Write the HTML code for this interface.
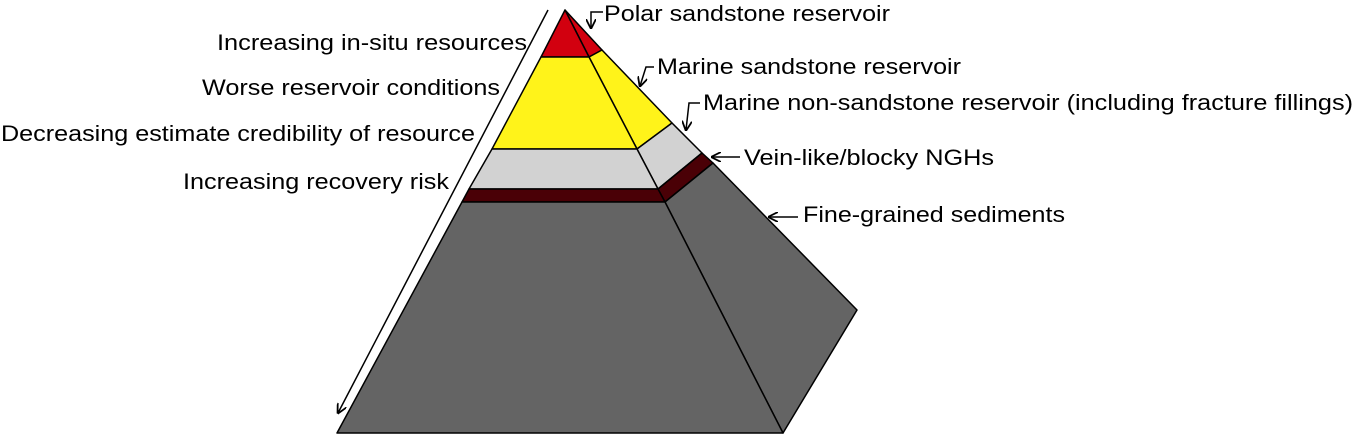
<!DOCTYPE html>
<html><head><meta charset="utf-8"><style>html,body{margin:0;padding:0;background:#fff}svg{display:block}</style></head><body>
<svg width="1354" height="435" viewBox="0 0 1354 435" xmlns="http://www.w3.org/2000/svg">
<defs><marker id="a" markerWidth="10" markerHeight="10" refX="9" refY="5" orient="auto" markerUnits="userSpaceOnUse"><path d="M0,0 L10,5 L0,10" fill="none" stroke="#000" stroke-width="1.8"/></marker></defs>
<g stroke="#000" stroke-width="1.5" stroke-linejoin="round">
<polygon points="565,10 602,50 589,57" fill="#d2000f"/>
<polygon points="602,50 672,123 637,149 589,57" fill="#fff31a"/>
<polygon points="672,123 702,153 658,189 637,149" fill="#d2d2d2"/>
<polygon points="702,153 713,163 665,202 658,189" fill="#4a0006"/>
<polygon points="713,163 857,310 783,433 665,202" fill="#646464"/>
<polygon points="565,10 589,57 541,57" fill="#d2000f"/>
<polygon points="541,57 589,57 637,149 492,149" fill="#fff31a"/>
<polygon points="492,149 637,149 658,189 469,189" fill="#d2d2d2"/>
<polygon points="469,189 658,189 665,202 462,202" fill="#4a0006"/>
<polygon points="462,202 665,202 783,433 337,433" fill="#646464"/>
</g>
<g stroke="#000" stroke-width="1.5" fill="none">
<line x1="548" y1="10" x2="338" y2="413" marker-end="url(#a)"/>
<polyline points="603,12 591,12 591,28" marker-end="url(#a)"/>
<polyline points="654,67 646,67 640,86" marker-end="url(#a)"/>
<polyline points="700,103 689,103 686,130" marker-end="url(#a)"/>
<line x1="740" y1="157" x2="712" y2="157" marker-end="url(#a)"/>
<line x1="798" y1="217" x2="769" y2="217" marker-end="url(#a)"/>
</g>
<g font-family="Liberation Sans, Arial, sans-serif" font-size="22" fill="#000">
<text x="527" y="50" text-anchor="end" textLength="310" lengthAdjust="spacingAndGlyphs">Increasing in-situ resources</text>
<text x="500" y="95" text-anchor="end" textLength="298" lengthAdjust="spacingAndGlyphs">Worse reservoir conditions</text>
<text x="475" y="141" text-anchor="end" textLength="474" lengthAdjust="spacingAndGlyphs">Decreasing estimate credibility of resource</text>
<text x="449" y="189" text-anchor="end" textLength="266" lengthAdjust="spacingAndGlyphs">Increasing recovery risk</text>
<text x="604" y="21" textLength="286" lengthAdjust="spacingAndGlyphs">Polar sandstone reservoir</text>
<text x="657" y="74" textLength="304" lengthAdjust="spacingAndGlyphs">Marine sandstone reservoir</text>
<text x="703" y="110" textLength="650" lengthAdjust="spacingAndGlyphs">Marine non-sandstone reservoir (including fracture fillings)</text>
<text x="744" y="165" textLength="250" lengthAdjust="spacingAndGlyphs">Vein-like/blocky NGHs</text>
<text x="803" y="222" textLength="262" lengthAdjust="spacingAndGlyphs">Fine-grained sediments</text>
</g>
</svg>
</body></html>
